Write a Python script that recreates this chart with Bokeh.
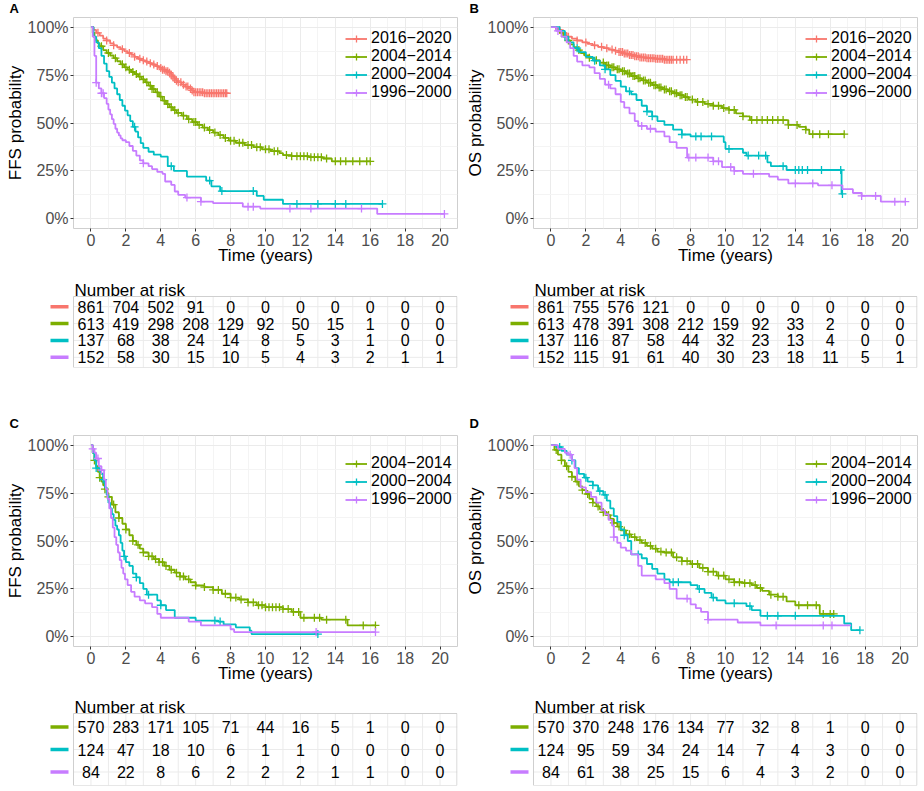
import numpy as np
from bokeh.plotting import figure
from bokeh.models import (Range1d, FixedTicker, NumeralTickFormatter, Legend,
                          LegendItem, ColumnDataSource)
from bokeh.layouts import column, row
from bokeh.embed import file_html
from bokeh.resources import INLINE
from bokeh.core.properties import value

# ---------------- data ----------------
group_labels = ["2016\u22122020", "2004\u22122014", "2000\u22122004", "1996\u22122000"]
group_colors = ["#F8766D", "#7CAE00", "#00BFC4", "#C77CFF"]
risk_times = [0, 2, 4, 6, 8, 10, 12, 14, 16, 18, 20]
grid_years = list(range(0, 21))
risk_title = "Number at risk"

# Panel A (FFS, all periods)
a_red_t = [0, 0.15, 0.3, 0.5, 0.7, 0.9, 1.1, 1.3, 1.5, 1.7, 1.9, 2.1, 2.3, 2.5, 2.7, 2.9, 3.1, 3.3, 3.5, 3.7, 3.9, 4.1, 4.3, 4.5, 4.6, 4.7, 4.8, 4.9, 5.0, 5.2, 5.4, 5.6, 5.75, 5.9, 6.5, 7.0, 7.8]
a_red_s = [1, 0.985, 0.97, 0.955, 0.94, 0.93, 0.915, 0.905, 0.895, 0.885, 0.875, 0.865, 0.855, 0.845, 0.835, 0.827, 0.82, 0.812, 0.805, 0.797, 0.787, 0.778, 0.77, 0.762, 0.75, 0.74, 0.73, 0.72, 0.712, 0.70, 0.69, 0.68, 0.67, 0.66, 0.655, 0.655, 0.655]
a_red_c = [0.4, 0.9, 1.3, 1.8, 2.2, 2.5, 2.8, 3.0, 3.2, 3.4, 3.6, 3.8, 4.0, 4.1, 4.2, 4.3, 4.4, 4.5, 4.6, 4.7, 4.8, 4.9, 5.0, 5.15, 5.3, 5.45, 5.55, 5.7, 5.8, 5.9, 6.0, 6.1, 6.2, 6.3, 6.4, 6.5, 6.6, 6.7, 6.8, 6.9, 7.0, 7.1, 7.2, 7.3, 7.4, 7.5, 7.6, 7.7, 7.78]
a_grn_t = [0, 0.1, 0.2, 0.3, 0.4, 0.5, 0.7, 0.9, 1.1, 1.3, 1.5, 1.7, 1.9, 2.1, 2.3, 2.5, 2.7, 2.9, 3.1, 3.3, 3.5, 3.7, 3.9, 4.1, 4.3, 4.5, 4.7, 4.9, 5.2, 5.5, 5.8, 6.1, 6.4, 6.7, 7.0, 7.3, 7.6, 7.9, 8.3, 8.8, 9.3, 9.8, 10.3, 10.8, 11.0, 11.5, 12.5, 13.3, 13.8, 16.0]
a_grn_s = [1, 0.97, 0.945, 0.93, 0.915, 0.90, 0.88, 0.865, 0.852, 0.838, 0.822, 0.806, 0.79, 0.778, 0.766, 0.755, 0.742, 0.727, 0.712, 0.695, 0.677, 0.66, 0.638, 0.617, 0.598, 0.582, 0.567, 0.553, 0.538, 0.52, 0.505, 0.49, 0.476, 0.463, 0.45, 0.437, 0.422, 0.408, 0.397, 0.385, 0.374, 0.363, 0.353, 0.343, 0.333, 0.327, 0.322, 0.315, 0.30, 0.30]
a_grn_c = [0.6, 1.0, 1.4, 1.8, 2.0, 2.2, 2.4, 2.6, 2.8, 3.0, 3.2, 3.4, 3.5, 3.6, 3.8, 4.0, 4.2, 4.4, 4.6, 4.8, 5.0, 5.3, 5.6, 5.9, 6.0, 6.2, 6.5, 6.8, 7.1, 7.4, 7.7, 8.0, 8.2, 8.5, 8.7, 9.0, 9.2, 9.5, 9.7, 10.0, 10.2, 10.5, 10.7, 11.2, 11.5, 11.8, 12.0, 12.2, 12.4, 12.6, 12.8, 13.0, 13.2, 13.5, 14.0, 14.3, 14.6, 15.0, 15.4, 15.8, 16.0]
a_cyn_t = [0, 0.15, 0.3, 0.45, 0.6, 0.75, 0.9, 1.05, 1.2, 1.35, 1.5, 1.65, 1.8, 1.95, 2.1, 2.25, 2.4, 2.55, 2.7, 2.85, 3.0, 3.3, 3.6, 4.0, 4.4, 4.75, 5.5, 6.6, 6.9, 7.4, 9.5, 9.9, 11.0, 16.7]
a_cyn_s = [1, 0.95, 0.92, 0.89, 0.85, 0.81, 0.77, 0.74, 0.71, 0.68, 0.65, 0.62, 0.59, 0.565, 0.54, 0.51, 0.48, 0.455, 0.425, 0.395, 0.37, 0.35, 0.335, 0.325, 0.275, 0.25, 0.22, 0.20, 0.17, 0.145, 0.12, 0.10, 0.078, 0.078]
a_cyn_c = [2.5, 4.6, 6.8, 7.5, 9.3, 11.8, 13.0, 14.0, 14.6, 16.7]
a_pur_t = [0, 0.1, 0.2, 0.3, 0.45, 0.6, 0.75, 0.9, 1.0, 1.1, 1.2, 1.3, 1.4, 1.5, 1.6, 1.7, 1.8, 2.0, 2.2, 2.4, 2.6, 2.8, 3.0, 3.3, 3.5, 3.8, 4.1, 4.25, 4.6, 4.8, 5.0, 5.4, 6.3, 7.0, 8.7, 9.7, 16.4, 20.25]
a_pur_s = [1, 0.95, 0.85, 0.71, 0.68, 0.655, 0.63, 0.60, 0.57, 0.545, 0.52, 0.495, 0.47, 0.45, 0.435, 0.42, 0.41, 0.40, 0.38, 0.355, 0.33, 0.305, 0.29, 0.275, 0.26, 0.245, 0.235, 0.195, 0.177, 0.143, 0.125, 0.111, 0.09, 0.082, 0.064, 0.054, 0.026, 0.026]
a_pur_c = [0.3, 0.6, 0.7, 3.0, 5.5, 6.3, 9.0, 9.3, 11.4, 12.6, 15.5, 20.25]

# Panel B (OS, all periods)
b_red_t = [0, 0.3, 0.6, 0.9, 1.2, 1.5, 1.8, 2.1, 2.4, 2.7, 3.0, 3.3, 3.6, 3.9, 4.2, 4.5, 4.8, 5.1, 5.5, 6.0, 6.5, 7.8]
b_red_s = [1, 0.985, 0.97, 0.95, 0.94, 0.93, 0.92, 0.912, 0.905, 0.897, 0.89, 0.883, 0.877, 0.87, 0.862, 0.855, 0.848, 0.842, 0.838, 0.835, 0.83, 0.83]
b_red_c = [0.5, 1.0, 1.5, 2.0, 2.5, 2.9, 3.2, 3.5, 3.7, 3.9, 4.0, 4.1, 4.2, 4.3, 4.4, 4.5, 4.6, 4.7, 4.8, 4.9, 5.0, 5.1, 5.2, 5.3, 5.4, 5.5, 5.6, 5.7, 5.8, 5.9, 6.0, 6.1, 6.2, 6.3, 6.4, 6.5, 6.6, 6.7, 6.8, 6.9, 7.0, 7.2, 7.4, 7.6, 7.78]
b_grn_t = [0, 0.3, 0.5, 0.7, 0.9, 1.1, 1.3, 1.5, 1.7, 1.9, 2.2, 2.5, 2.8, 3.1, 3.4, 3.7, 4.0, 4.3, 4.6, 4.9, 5.2, 5.5, 5.8, 6.1, 6.4, 6.7, 7.0, 7.3, 7.6, 7.9, 8.3, 8.8, 9.3, 9.8, 10.2, 10.6, 11.0, 11.4, 13.6, 14.2, 14.6, 14.8, 16.8]
b_grn_s = [1, 0.99, 0.97, 0.95, 0.93, 0.91, 0.895, 0.88, 0.865, 0.853, 0.84, 0.827, 0.815, 0.80, 0.79, 0.78, 0.77, 0.758, 0.745, 0.733, 0.722, 0.71, 0.697, 0.685, 0.675, 0.665, 0.655, 0.645, 0.635, 0.622, 0.61, 0.60, 0.59, 0.578, 0.568, 0.55, 0.535, 0.515, 0.49, 0.48, 0.465, 0.442, 0.442]
b_grn_c = [1.0, 1.6, 2.2, 2.6, 3.0, 3.2, 3.3, 3.5, 3.6, 3.8, 3.9, 4.1, 4.2, 4.4, 4.5, 4.7, 4.8, 5.0, 5.1, 5.3, 5.4, 5.6, 5.7, 5.9, 6.0, 6.2, 6.3, 6.5, 6.6, 6.8, 6.9, 7.1, 7.2, 7.4, 7.5, 7.7, 7.8, 8.1, 8.4, 8.7, 9.0, 9.3, 9.6, 9.9, 10.2, 10.5, 11.0, 11.5, 11.8, 12.1, 12.4, 12.7, 13.0, 13.3, 13.6, 14.1, 14.6, 15.0, 15.4, 15.9, 16.8]
b_cyn_t = [0, 0.5, 0.8, 1.0, 1.3, 1.6, 2.0, 2.4, 2.8, 3.1, 3.4, 3.7, 4.0, 4.3, 4.6, 4.9, 5.2, 5.5, 5.8, 6.1, 6.5, 7.0, 7.5, 8.0, 9.9, 10.0, 11.0, 11.2, 12.4, 12.6, 13.5, 16.65, 16.7]
b_cyn_s = [1, 0.98, 0.95, 0.92, 0.89, 0.87, 0.845, 0.825, 0.80, 0.78, 0.75, 0.72, 0.69, 0.665, 0.65, 0.62, 0.59, 0.56, 0.535, 0.51, 0.49, 0.465, 0.44, 0.43, 0.40, 0.365, 0.345, 0.33, 0.295, 0.275, 0.255, 0.13, 0.13]
b_cyn_c = [0.8, 1.5, 2.5, 3.1, 4.5, 5.5, 5.8, 7.5, 8.3, 8.6, 9.2, 10.2, 11.3, 11.9, 12.3, 13.3, 14.0, 14.2, 14.4, 14.7, 15.5, 16.6, 16.7]
b_pur_t = [0, 0.3, 0.6, 0.9, 1.1, 1.3, 1.5, 1.8, 2.2, 2.5, 2.8, 3.1, 3.4, 3.7, 4.0, 4.2, 4.5, 4.8, 5.0, 5.5, 6.0, 6.5, 6.8, 7.2, 7.8, 9.3, 9.8, 10.5, 11.0, 12.5, 13.0, 13.6, 15.3, 16.7, 17.3, 17.8, 18.9, 20.3]
b_pur_s = [1, 0.98, 0.95, 0.92, 0.89, 0.85, 0.82, 0.80, 0.79, 0.76, 0.73, 0.70, 0.68, 0.65, 0.61, 0.58, 0.55, 0.51, 0.485, 0.47, 0.455, 0.43, 0.40, 0.37, 0.32, 0.30, 0.27, 0.25, 0.235, 0.22, 0.205, 0.185, 0.175, 0.155, 0.135, 0.12, 0.09, 0.09]
b_pur_c = [0.4, 3.3, 5.2, 5.7, 7.9, 8.3, 9.0, 9.3, 9.6, 10.3, 10.5, 11.6, 14.0, 15.0, 16.1, 17.8, 18.6, 19.7, 20.3]

# Panel C (FFS, three periods)
c_grn_t = [0, 0.1, 0.2, 0.3, 0.4, 0.5, 0.6, 0.7, 0.8, 0.9, 1.0, 1.2, 1.4, 1.6, 1.8, 2.0, 2.2, 2.4, 2.6, 2.8, 3.0, 3.3, 3.6, 3.9, 4.2, 4.5, 4.8, 5.1, 5.4, 5.7, 6.0, 6.5, 7.0, 7.5, 8.0, 8.5, 9.0, 9.5, 10.0, 11.0, 11.5, 12.0, 13.2, 14.7, 16.3]
c_grn_s = [1, 0.96, 0.92, 0.89, 0.86, 0.83, 0.81, 0.79, 0.77, 0.75, 0.73, 0.69, 0.65, 0.62, 0.59, 0.56, 0.53, 0.50, 0.48, 0.46, 0.44, 0.42, 0.405, 0.39, 0.37, 0.35, 0.335, 0.315, 0.30, 0.285, 0.268, 0.26, 0.245, 0.225, 0.205, 0.195, 0.18, 0.165, 0.155, 0.145, 0.13, 0.10, 0.09, 0.06, 0.06]
c_grn_c = [0.2, 0.5, 0.8, 1.0, 1.3, 1.6, 2.0, 2.4, 2.7, 3.0, 3.3, 3.5, 3.7, 3.9, 4.1, 4.3, 4.6, 4.9, 5.1, 5.3, 5.6, 6.0, 6.5, 7.0, 7.3, 7.7, 8.0, 8.3, 8.6, 9.0, 9.3, 9.6, 9.8, 10.0, 10.2, 10.4, 10.6, 10.8, 11.0, 11.3, 11.6, 11.9, 12.2, 12.8, 13.1, 13.5, 14.6, 15.6, 16.3]
c_cyn_t = [0, 0.1, 0.2, 0.3, 0.5, 0.6, 0.7, 0.8, 0.9, 1.0, 1.1, 1.2, 1.3, 1.4, 1.5, 1.6, 1.7, 1.8, 1.9, 2.0, 2.2, 2.4, 2.6, 2.8, 3.0, 3.2, 3.6, 3.8, 4.0, 4.3, 4.8, 5.6, 6.0, 7.3, 7.6, 8.3, 9.1, 9.2, 13.0]
c_cyn_s = [1, 0.96, 0.92, 0.88, 0.86, 0.85, 0.82, 0.78, 0.74, 0.70, 0.67, 0.64, 0.61, 0.58, 0.56, 0.53, 0.49, 0.45, 0.42, 0.39, 0.37, 0.33, 0.31, 0.28, 0.25, 0.22, 0.22, 0.19, 0.165, 0.14, 0.10, 0.10, 0.085, 0.08, 0.065, 0.05, 0.032, 0.015, 0.015]
c_cyn_c = [0.3, 0.7, 1.9, 2.6, 3.3, 4.0, 7.1, 7.4, 13.0]
c_pur_t = [0, 0.1, 0.2, 0.3, 0.45, 0.6, 0.75, 0.85, 0.95, 1.05, 1.15, 1.25, 1.35, 1.45, 1.55, 1.65, 1.75, 1.85, 1.95, 2.1, 2.3, 2.5, 2.8, 3.1, 3.5, 3.8, 4.0, 5.6, 6.3, 8.0, 8.2, 16.3]
c_pur_s = [1, 0.98, 0.96, 0.93, 0.89, 0.87, 0.82, 0.77, 0.72, 0.67, 0.62, 0.57, 0.52, 0.48, 0.44, 0.40, 0.36, 0.33, 0.30, 0.27, 0.235, 0.21, 0.19, 0.175, 0.155, 0.12, 0.10, 0.08, 0.06, 0.04, 0.025, 0.025]
c_pur_c = [0.1, 0.4, 0.6, 12.9, 16.3]

# Panel D (OS, three periods)
d_grn_t = [0, 0.2, 0.4, 0.6, 0.8, 1.0, 1.2, 1.4, 1.6, 1.8, 2.0, 2.2, 2.4, 2.6, 2.8, 3.0, 3.2, 3.4, 3.6, 3.8, 4.0, 4.3, 4.6, 4.9, 5.2, 5.5, 5.8, 6.1, 6.5, 7.0, 7.5, 8.0, 8.5, 9.0, 9.5, 10.0, 10.5, 11.0, 11.5, 11.8, 12.1, 12.5, 13.0, 13.5, 14.0, 15.4, 16.2]
d_grn_s = [1, 0.975, 0.95, 0.92, 0.89, 0.86, 0.835, 0.81, 0.785, 0.765, 0.745, 0.72, 0.70, 0.68, 0.665, 0.65, 0.635, 0.615, 0.595, 0.575, 0.555, 0.535, 0.52, 0.505, 0.49, 0.475, 0.46, 0.445, 0.44, 0.415, 0.395, 0.38, 0.36, 0.34, 0.32, 0.30, 0.285, 0.28, 0.27, 0.255, 0.24, 0.22, 0.21, 0.185, 0.165, 0.12, 0.12]
d_grn_c = [0.3, 0.6, 0.9, 1.2, 1.5, 1.8, 2.1, 2.4, 2.7, 3.0, 3.3, 3.6, 3.9, 4.2, 4.5, 4.8, 5.1, 5.4, 5.7, 6.0, 6.3, 6.6, 6.9, 7.2, 7.5, 7.8, 8.1, 8.4, 8.7, 9.0, 9.3, 9.6, 9.9, 10.2, 10.5, 10.8, 11.1, 11.4, 11.7, 12.0, 12.6, 13.0, 13.3, 14.2, 14.7, 15.2, 15.6, 16.0, 16.2]
d_cyn_t = [0, 0.3, 0.6, 0.9, 1.2, 1.4, 1.6, 1.9, 2.1, 2.4, 2.7, 3.0, 3.2, 3.4, 3.6, 3.8, 4.0, 4.2, 4.4, 4.6, 5.2, 5.5, 5.8, 6.1, 6.5, 6.8, 8.0, 8.4, 8.8, 9.2, 9.5, 10.0, 11.2, 11.5, 12.0, 16.8, 17.2, 17.7]
d_cyn_s = [1, 0.99, 0.97, 0.95, 0.92, 0.88, 0.85, 0.83, 0.81, 0.79, 0.76, 0.74, 0.71, 0.67, 0.63, 0.60, 0.56, 0.53, 0.50, 0.43, 0.41, 0.38, 0.355, 0.33, 0.30, 0.285, 0.27, 0.25, 0.23, 0.205, 0.19, 0.175, 0.16, 0.14, 0.11, 0.07, 0.035, 0.035]
d_cyn_c = [0.5, 1.2, 2.0, 2.4, 2.8, 3.1, 4.2, 5.0, 7.0, 7.3, 8.5, 9.3, 10.5, 11.4, 12.4, 13.0, 14.0, 17.7]
d_pur_t = [0, 0.4, 0.8, 1.0, 1.2, 1.35, 1.5, 1.7, 2.0, 2.3, 2.6, 2.9, 3.1, 3.3, 3.5, 3.6, 3.8, 4.0, 4.3, 4.6, 5.0, 5.2, 6.0, 6.5, 6.8, 7.2, 8.0, 8.3, 8.6, 9.0, 10.7, 12.0, 17.2]
d_pur_s = [1, 0.98, 0.96, 0.95, 0.92, 0.88, 0.82, 0.78, 0.755, 0.73, 0.70, 0.66, 0.64, 0.61, 0.58, 0.52, 0.49, 0.465, 0.45, 0.43, 0.37, 0.32, 0.30, 0.28, 0.25, 0.20, 0.17, 0.15, 0.13, 0.09, 0.075, 0.06, 0.06]
d_pur_c = [1.1, 3.6, 7.8, 9.0, 12.9, 15.6, 16.1]

# Numbers at risk
a_risk = [[861, 704, 502, 91, 0, 0, 0, 0, 0, 0, 0],
          [613, 419, 298, 208, 129, 92, 50, 15, 1, 0, 0],
          [137, 68, 38, 24, 14, 8, 5, 3, 1, 0, 0],
          [152, 58, 30, 15, 10, 5, 4, 3, 2, 1, 1]]
b_risk = [[861, 755, 576, 121, 0, 0, 0, 0, 0, 0, 0],
          [613, 478, 391, 308, 212, 159, 92, 33, 2, 0, 0],
          [137, 116, 87, 58, 44, 32, 23, 13, 4, 0, 0],
          [152, 115, 91, 61, 40, 30, 23, 18, 11, 5, 1]]
c_risk = [[570, 283, 171, 105, 71, 44, 16, 5, 1, 0, 0],
          [124, 47, 18, 10, 6, 1, 1, 0, 0, 0, 0],
          [84, 22, 8, 6, 2, 2, 2, 1, 1, 0, 0]]
d_risk = [[570, 370, 248, 176, 134, 77, 32, 8, 1, 0, 0],
          [124, 95, 59, 34, 24, 14, 7, 4, 3, 0, 0],
          [84, 61, 38, 25, 15, 6, 4, 3, 2, 0, 0]]

# ---------------- styling helpers ----------------
FONT = "Liberation Sans"
XR = (-1.0, 21.0)
YR = (-0.05, 1.05)
FRAME_W = 384
LEFT_B = 73                           # left border of the survival panels
PPU = FRAME_W / (XR[1] - XR[0])      # pixels per year
TABLE_EXTRA = 25                      # px of table frame left of the box (for colour keys)
GRID = "#EBEBEB"
BORDER = "#CFCFCF"


def step_at(ts, ss, q):
    ts = np.asarray(ts, dtype=float)
    ss = np.asarray(ss, dtype=float)
    idx = np.searchsorted(ts, np.asarray(q, dtype=float), side="right") - 1
    return ss[np.clip(idx, 0, len(ss) - 1)]


def km_plot(letter, ylab, series, width, height, mtop, mright, mbottom,
            leg_xy, letter_valign, letter_standoff):
    p = figure(width=width, height=height, x_range=Range1d(*XR), y_range=Range1d(*YR),
               output_backend="svg", toolbar_location=None, title=letter,
               min_border_left=LEFT_B, min_border_right=mright,
               min_border_top=mtop, min_border_bottom=mbottom)
    p.title.text_font = FONT
    p.title.text_font_size = "13px"
    p.title.text_font_style = "bold"
    p.title.text_color = "black"
    p.title.align = "left"
    p.title.offset = -64
    p.title.standoff = letter_standoff
    p.title.vertical_align = letter_valign
    p.background_fill_color = "white"
    p.border_fill_color = "white"
    p.outline_line_color = BORDER
    p.outline_line_width = 1

    p.xaxis.ticker = FixedTicker(ticks=list(range(0, 21, 2)), minor_ticks=list(range(1, 21, 2)))
    p.yaxis.ticker = FixedTicker(ticks=[0, 0.25, 0.5, 0.75, 1.0],
                                 minor_ticks=[0.125, 0.375, 0.625, 0.875])
    p.yaxis.formatter = NumeralTickFormatter(format="0%")
    p.xgrid.grid_line_color = GRID
    p.ygrid.grid_line_color = GRID
    p.xgrid.minor_grid_line_color = "#F4F4F4"
    p.ygrid.minor_grid_line_color = "#F4F4F4"
    for ax in (p.xaxis, p.yaxis):
        ax.axis_line_color = None
        ax.major_tick_line_color = "#333333"
        ax.major_tick_in = 0
        ax.major_tick_out = 3
        ax.minor_tick_line_color = None
        ax.major_label_text_font = FONT
        ax.major_label_text_font_size = "16px"
        ax.major_label_text_color = "#4D4D4D"
        ax.major_label_standoff = 1
        ax.axis_label_text_font = FONT
        ax.axis_label_text_font_size = "17px"
        ax.axis_label_text_font_style = "normal"
        ax.axis_label_text_color = "black"
    p.xaxis.axis_label_standoff = -3
    p.yaxis.axis_label_standoff = 0
    p.xaxis.axis_label = "Time (years)"
    p.yaxis.axis_label = ylab

    items = []
    for lab, col, t, s, c in series:
        r1 = p.step(t, s, mode="after", line_color=col, line_width=1.8)
        r2 = p.scatter(c, step_at(t, s, c), marker="cross", size=8,
                       line_color=col, line_width=1.3)
        items.append(LegendItem(label=lab, renderers=[r1, r2]))
    leg = Legend(items=items, location=leg_xy, orientation="vertical",
                 background_fill_alpha=0, border_line_alpha=0,
                 padding=0, margin=0, spacing=-2,
                 glyph_width=22, glyph_height=17, label_height=17, label_standoff=4,
                 label_text_font=FONT, label_text_font_size="16px",
                 label_text_color="black")
    p.add_layout(leg)
    return p


def risk_table(counts, colors, width, box_px, title_px, title_gap, mbottom):
    """Risk table: a box of box_px pixels with a title area of title_px above it."""
    n = len(counts)
    ppr = box_px / (n + 0.2)                    # pixels per table row
    x0 = XR[0] - TABLE_EXTRA / PPU
    y_top = n + 0.6 + title_px / ppr
    t = figure(width=width, height=box_px + title_px + mbottom,
               x_range=Range1d(x0, XR[1]), y_range=Range1d(0.4, y_top),
               output_backend="svg", toolbar_location=None,
               min_border_left=LEFT_B - TABLE_EXTRA, min_border_right=3,
               min_border_top=0, min_border_bottom=mbottom)
    t.outline_line_color = None
    t.xaxis.visible = False
    t.yaxis.visible = False
    t.xgrid.grid_line_color = None
    t.ygrid.grid_line_color = None
    t.background_fill_color = "white"

    rows = list(range(1, n + 1))
    # table grid and box
    t.segment(x0=grid_years, y0=[0.4] * len(grid_years), x1=grid_years,
              y1=[n + 0.6] * len(grid_years), line_color=GRID, line_width=1)
    t.segment(x0=[XR[0]] * n, y0=rows, x1=[XR[1]] * n, y1=rows,
              line_color=GRID, line_width=1)
    t.quad(left=[XR[0]], right=[XR[1] - 0.03], bottom=[0.4], top=[n + 0.6],
           fill_color=None, line_color=BORDER, line_width=1)

    # table title
    t.text(x=[XR[0] + 1 / PPU], y=[n + 0.6 + title_gap / ppr], text=[risk_title],
           text_align="left", text_baseline="alphabetic", text_font=value(FONT),
           text_font_size="17px", text_color="black")

    xs, ys, txt = [], [], []
    for i, rowvals in enumerate(counts):
        for tm, v in zip(risk_times, rowvals):
            xs.append(tm)
            ys.append(n - i)
            txt.append(str(v))
    src = ColumnDataSource(dict(x=xs, y=ys, txt=txt))
    t.text(x="x", y="y", text="txt", source=src, text_align="center",
           text_baseline="middle", text_font=value(FONT), text_font_size="16px",
           text_color="black")
    # colour keys left of the table
    key_y = [n - i for i in range(len(colors))]
    t.segment(x0=[x0 + 2 / PPU] * len(colors), y0=key_y,
              x1=[x0 + 20 / PPU] * len(colors), y1=key_y,
              line_color=list(colors), line_width=3.5)
    return t


ser_a = [(group_labels[0], group_colors[0], a_red_t, a_red_s, a_red_c),
         (group_labels[1], group_colors[1], a_grn_t, a_grn_s, a_grn_c),
         (group_labels[2], group_colors[2], a_cyn_t, a_cyn_s, a_cyn_c),
         (group_labels[3], group_colors[3], a_pur_t, a_pur_s, a_pur_c)]
ser_b = [(group_labels[0], group_colors[0], b_red_t, b_red_s, b_red_c),
         (group_labels[1], group_colors[1], b_grn_t, b_grn_s, b_grn_c),
         (group_labels[2], group_colors[2], b_cyn_t, b_cyn_s, b_cyn_c),
         (group_labels[3], group_colors[3], b_pur_t, b_pur_s, b_pur_c)]
ser_c = [(group_labels[1], group_colors[1], c_grn_t, c_grn_s, c_grn_c),
         (group_labels[2], group_colors[2], c_cyn_t, c_cyn_s, c_cyn_c),
         (group_labels[3], group_colors[3], c_pur_t, c_pur_s, c_pur_c)]
ser_d = [(group_labels[1], group_colors[1], d_grn_t, d_grn_s, d_grn_c),
         (group_labels[2], group_colors[2], d_cyn_t, d_cyn_s, d_cyn_c),
         (group_labels[3], group_colors[3], d_pur_t, d_pur_s, d_pur_c)]

W = LEFT_B + FRAME_W + 3   # 460
# row 1: plots (0 -> 276), tables (276 -> 370); row 2: plots (370 -> 694), tables (694 -> 786)
pa = km_plot("A", "FFS probability", ser_a, W, 276, 16, 3, 48, (272, 127), "top", 0)
pb = km_plot("B", "OS probability", ser_b, W, 276, 16, 3, 48, (272, 127), "top", 0)
ta = risk_table(a_risk, group_colors, W, 71, 20, 6.5, 3)
tb = risk_table(b_risk, group_colors, W, 71, 20, 6.5, 3)
pc = km_plot("C", "FFS probability", ser_c, W, 324, 65, 3, 48, (272, 138), "bottom", 10)
pd_ = km_plot("D", "OS probability", ser_d, W, 324, 65, 3, 48, (272, 138), "bottom", 10)
tc = risk_table(c_risk, group_colors[1:], W, 72, 19, 6, 1)
td = risk_table(d_risk, group_colors[1:], W, 72, 19, 6, 1)

layout = column(row(pa, pb), row(ta, tb), row(pc, pd_), row(tc, td))
open("out.html", "w").write(file_html(layout, INLINE))
